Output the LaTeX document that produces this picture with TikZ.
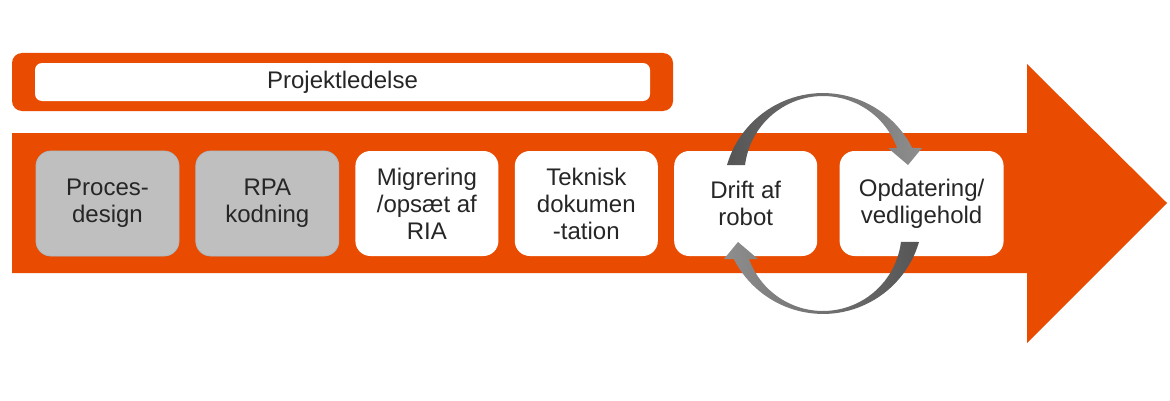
\documentclass[tikz,border=0pt]{standalone}
\usepackage{fontspec}
\setmainfont{Liberation Sans}
\usepackage{tikz}
\usetikzlibrary{chains,positioning}
\definecolor{pwcorange}{RGB}{233,75,0}
\definecolor{boxgray}{RGB}{191,191,191}
\definecolor{boxedge}{RGB}{172,186,196}
\definecolor{loopdark}{RGB}{85,85,85}
\definecolor{looplight}{RGB}{142,142,142}

\begin{document}
\begin{tikzpicture}[
x=1pt,y=1pt,
phase/.style={
  fill=white,
  rounded corners=15pt,
  minimum width=143pt,
  minimum height=105pt,
  inner sep=0pt,
  align=center,
  text=black!85,
  font=\fontsize{24}{27}\selectfont
},
done/.style={
  phase,
  fill=boxgray,
  draw=boxedge,
  line width=0.8pt
},
start chain=1,node distance=16pt
]
\useasboundingbox (0,0) rectangle (1170,400);

% big process arrow
\fill[pwcorange] (12,127) -- (1027,127) -- (1027,57) -- (1167,197)
  -- (1027,336) -- (1027,267) -- (12,267) -- cycle;

% project management bar
\node[fill=pwcorange,rounded corners=10pt,minimum width=661pt,minimum height=58pt] 
  (lead) at (342.5,318) {};
\node[fill=white,rounded corners=7pt,minimum width=615pt,minimum height=38pt,
  text=black!85,font=\fontsize{24}{27}\selectfont] 
  (ledelse) at (lead) {Projektledelse};

% phases
\node[on chain=1,done] at (107.5,196.5) 
  (proces) {Proces-\\design};
\node[on chain=1,done] 
  (rpa) {RPA\\kodning};
\node[on chain=1,phase] 
  (ria) {Migrering\\/opsæt af\\RIA};
\node[on chain=1,phase] 
  (doku) {Teknisk\\dokumen\\-tation};
\node[on chain=1,phase] 
  (drift) {Drift af\\robot};
\node[on chain=1,phase,minimum width=164pt,xshift=6pt] 
  (opdat) {Opdatering/\\vedligehold};

% loop between drift and update
\coordinate (loop) at (823,196.5);
\begin{scope}[shift={(loop)}]
\shade[left color=loopdark,right color=looplight] 
  (-96,38.5) arc[start angle=163.7,end angle=26.8,radius=100] 
  -- (99,55.5) -- (85,38.5) -- (65,55.5) -- (74,55.5) 
  arc[start angle=19.8,end angle=173,radius=78.6] -- cycle;
\shade[left color=looplight,right color=loopdark] 
  (96,-38.5) arc[start angle=-16.3,end angle=-153.2,radius=100] 
  -- (-99,-55.5) -- (-85,-38.5) -- (-65,-55.5) -- (-74,-55.5) 
  arc[start angle=-160.2,end angle=-7,radius=78.6] -- cycle;
\end{scope}
\end{tikzpicture}
\end{document}
